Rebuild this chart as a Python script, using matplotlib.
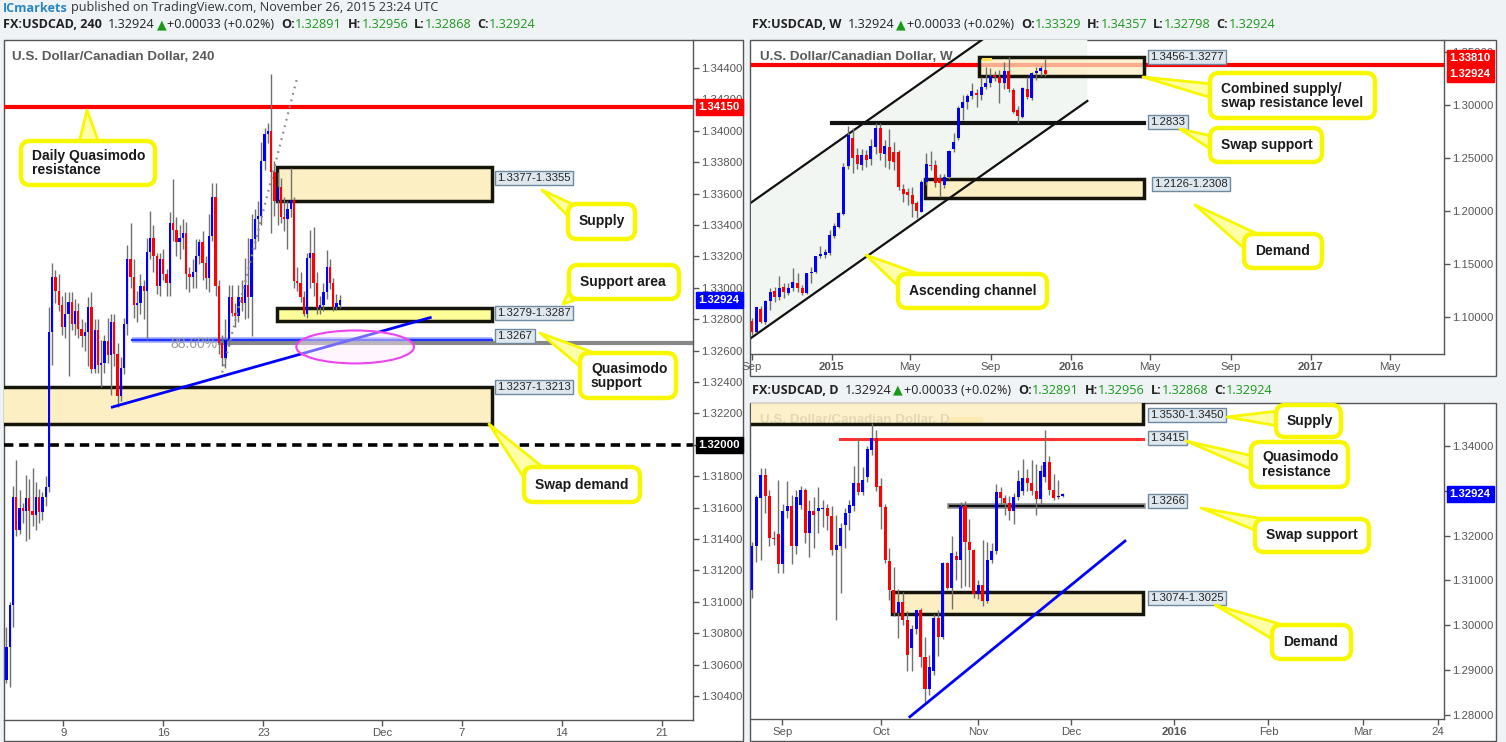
import numpy as np
import pandas as pd
import matplotlib
matplotlib.use('Agg')
import matplotlib.pyplot as plt
import matplotlib.dates as mdates
from matplotlib.patches import Rectangle, FancyBboxPatch, Polygon, Ellipse
from matplotlib.colors import to_rgba

# ======================= DATA =======================
# --- H4 (240) candles ---
h4_open = [1.3050,1.3071,1.3098,1.3167,1.3146,1.3160,1.3158,1.3166,1.3158,1.3155,
           1.3167,1.3157,1.3167,1.3173,1.3272,1.3307,1.3298,1.3289,1.3275,1.3283,
           1.3291,1.3277,1.3285,1.3274,1.3269,1.3272,1.3288,1.3248,1.3273,1.3251,
           1.3252,1.3266,1.3257,1.3278,1.3258,1.3231,1.3249,1.3277,1.3318,1.3307,
           1.3289,1.3290,1.3301,1.3298,1.3323,1.3332,1.3320,1.3301,1.3318,1.3309,
           1.3303,1.3341,1.3337,1.3329,1.3332,1.3335,1.3309,1.3307,1.3310,1.3320,
           1.3329,1.3316,1.3306,1.3333,1.3358,1.3301,1.3265,1.3255,1.3267,1.3294,
           1.3284,1.3282,1.3294,1.3290,1.3302,1.3294,1.3331,1.3344,1.3346,1.3381,
           1.3398,1.3400,1.3374,1.3355,1.3364,1.3345,1.3344,1.3350,1.3356,1.3304,
           1.3303,1.3294,1.3283,1.3319,1.3322,1.3303,1.3287,1.3289,1.3297,1.3313,
           1.3303,1.3288,1.3289]
h4_high = [1.3084,1.3100,1.3174,1.3190,1.3171,1.3163,1.3181,1.3178,1.3185,1.3176,
           1.3172,1.3170,1.3180,1.3288,1.3316,1.3311,1.3309,1.3295,1.3297,1.3297,
           1.3297,1.3293,1.3290,1.3280,1.3278,1.3294,1.3297,1.3280,1.3280,1.3267,
           1.3270,1.3281,1.3283,1.3283,1.3265,1.3256,1.3281,1.3327,1.3341,1.3318,
           1.3298,1.3309,1.3305,1.3332,1.3349,1.3340,1.3322,1.3322,1.3325,1.3312,
           1.3348,1.3369,1.3345,1.3340,1.3344,1.3342,1.3313,1.3318,1.3331,1.3331,
           1.3336,1.3320,1.3347,1.3367,1.3367,1.3305,1.3270,1.3280,1.3302,1.3302,
           1.3290,1.3302,1.3305,1.3319,1.3332,1.3347,1.3350,1.3355,1.3393,1.3402,
           1.3405,1.3436,1.3381,1.3374,1.3370,1.3358,1.3355,1.3376,1.3358,1.3313,
           1.3310,1.3298,1.3322,1.3337,1.3339,1.3310,1.3295,1.3303,1.3324,1.3318,
           1.3306,1.3296,1.32956]
h4_low = [1.3048,1.3046,1.3084,1.3142,1.3143,1.3150,1.3139,1.3140,1.3148,1.3146,
          1.3150,1.3152,1.3161,1.3170,1.3251,1.3290,1.3285,1.3270,1.3268,1.3244,
          1.3273,1.3270,1.3268,1.3262,1.3260,1.3250,1.3246,1.3246,1.3246,1.3237,
          1.3246,1.3252,1.3232,1.3250,1.3224,1.3228,1.3245,1.3270,1.3300,1.3281,
          1.3278,1.3283,1.3280,1.3267,1.3318,1.3310,1.3296,1.3295,1.3305,1.3295,
          1.3295,1.3330,1.3320,1.3318,1.3325,1.3299,1.3297,1.3300,1.3300,1.3315,
          1.3305,1.3299,1.3297,1.3330,1.3295,1.3258,1.3250,1.3249,1.3263,1.3282,
          1.3275,1.3278,1.3285,1.3280,1.3281,1.3269,1.3325,1.3330,1.3340,1.3375,
          1.3392,1.3335,1.3346,1.3340,1.3341,1.3336,1.3325,1.3345,1.3300,1.3298,
          1.3291,1.3282,1.3281,1.3300,1.3295,1.3283,1.3283,1.3285,1.3293,1.3299,
          1.3285,1.3286,1.32868]
h4_close = [1.3071,1.3098,1.3167,1.3146,1.3160,1.3158,1.3166,1.3158,1.3155,1.3167,
            1.3157,1.3167,1.3173,1.3272,1.3307,1.3298,1.3289,1.3275,1.3283,1.3291,
            1.3277,1.3285,1.3274,1.3269,1.3272,1.3288,1.3248,1.3273,1.3251,1.3252,
            1.3266,1.3257,1.3278,1.3258,1.3231,1.3249,1.3277,1.3318,1.3307,1.3289,
            1.3290,1.3301,1.3298,1.3323,1.3332,1.3320,1.3301,1.3318,1.3309,1.3303,
            1.3341,1.3337,1.3329,1.3332,1.3335,1.3309,1.3307,1.3310,1.3320,1.3329,
            1.3316,1.3306,1.3333,1.3358,1.3301,1.3265,1.3255,1.3267,1.3294,1.3284,
            1.3282,1.3294,1.3290,1.3302,1.3294,1.3331,1.3344,1.3346,1.3381,1.3398,
            1.3400,1.3374,1.3355,1.3364,1.3345,1.3344,1.3350,1.3356,1.3304,1.3303,
            1.3294,1.3283,1.3319,1.3322,1.3303,1.3287,1.3289,1.3297,1.3313,1.3303,
            1.3288,1.3290,1.32924]
h4_tick_pos = [17.4, 48.0, 78.6, 115.0, 139.4, 170.0, 200.6]
h4_tick_lab = ['9', '16', '23', 'Dec', '7', '14', '21']
h4_yticks = [1.304, 1.306, 1.308, 1.310, 1.312, 1.314, 1.316, 1.318, 1.320, 1.322,
             1.324, 1.326, 1.328, 1.330, 1.332, 1.334, 1.336, 1.338, 1.340, 1.342, 1.344]

# H4 levels / drawings
h4_qm_res = 1.3415
h4_supply = (1.3355, 1.3377)
h4_support = (1.3279, 1.3287)
h4_qm_sup = 1.3267
h4_fib = 1.32648
h4_swap = (1.3213, 1.3237)
h4_round = 1.3200
h4_last = 1.32924
h4_trend_x = [32.4, 129.7]
h4_trend_y = [1.3224, 1.3281]
h4_fibline_x = [66.0, 89.0]
h4_fibline_y = [1.3246, 1.3434]

# --- Weekly candles ---
w_open = [1.0962,1.0861,1.1078,1.0955,1.1151,1.1248,1.1191,1.1280,1.1223,1.1270,
          1.1317,1.1270,1.1223,1.1412,1.1428,1.1576,1.1585,1.1601,1.1765,1.1853,
          1.1973,1.2426,1.2688,1.2530,1.2436,1.2530,1.2489,1.2609,1.2782,1.2540,
          1.2603,1.2562,1.2562,1.2206,1.2184,1.2152,1.2073,1.1995,1.2278,1.2436,
          1.2436,1.2310,1.2247,1.2319,1.2584,1.2688,1.2971,1.3034,1.3088,1.3119,
          1.3097,1.3176,1.3207,1.3283,1.3270,1.3214,1.3327,1.3145,1.2956,1.2893,
          1.3151,1.3066,1.3302,1.3324,1.33329]
w_high = [1.0987,1.1097,1.1103,1.1160,1.1270,1.1286,1.1387,1.1320,1.1317,1.1459,
          1.1412,1.1300,1.1420,1.1475,1.1580,1.1670,1.1640,1.1822,1.1891,1.1990,
          1.2452,1.2804,1.2782,1.2600,1.2590,1.2580,1.2678,1.2830,1.2830,1.2670,
          1.2773,1.2650,1.2580,1.2260,1.2220,1.2231,1.2100,1.2290,1.2546,1.2571,
          1.2480,1.2350,1.2350,1.2580,1.2735,1.2990,1.3097,1.3110,1.3214,1.3150,
          1.3271,1.3359,1.3349,1.3327,1.3333,1.3412,1.3453,1.3160,1.2990,1.3170,
          1.3271,1.3310,1.3359,1.3370,1.34357]
w_low = [1.0829,1.0850,1.0940,1.0930,1.1066,1.1140,1.1160,1.1180,1.1210,1.1250,
         1.1240,1.1207,1.1215,1.1317,1.1420,1.1560,1.1560,1.1590,1.1750,1.1840,
         1.1960,1.2400,1.2357,1.2400,1.2389,1.2420,1.2440,1.2540,1.2480,1.2420,
         1.2400,1.2389,1.2200,1.2089,1.2060,1.1947,1.1932,1.1995,1.2250,1.2390,
         1.2230,1.2137,1.2220,1.2300,1.2560,1.2670,1.2861,1.2962,1.3060,1.2987,
         1.3050,1.3150,1.3170,1.3230,1.3025,1.3150,1.3130,1.2930,1.2836,1.2880,
         1.3060,1.3050,1.3239,1.3280,1.32798]
w_close = [1.0861,1.1091,1.0955,1.1151,1.1239,1.1185,1.1270,1.1232,1.1270,1.1327,
           1.1270,1.1223,1.1412,1.1428,1.1576,1.1595,1.1617,1.1774,1.1859,1.1979,
           1.2414,1.2719,1.2499,1.2445,1.2530,1.2483,1.2615,1.2782,1.2546,1.2615,
           1.2477,1.2467,1.2231,1.2162,1.2152,1.2067,1.2004,1.2278,1.2445,1.2426,
           1.2263,1.2263,1.2319,1.2571,1.2656,1.2971,1.3034,1.3088,1.3138,1.3097,
           1.3176,1.3207,1.3277,1.3264,1.3214,1.3327,1.3151,1.2940,1.2899,1.3160,
           1.3075,1.3302,1.3324,1.3349,1.32924]
w_dates = pd.date_range('2014-09-01', periods=len(w_open), freq='7D')
w_tick_dates = ['2014-09-01', '2015-01-01', '2015-05-01', '2015-09-01', '2016-01-01',
                '2016-05-01', '2016-09-01', '2017-01-01', '2017-05-01']
w_tick_lab = ['Sep', '2015', 'May', 'Sep', '2016', 'May', 'Sep', '2017', 'May']
w_yticks = [1.10, 1.15, 1.20, 1.25, 1.30, 1.35]

w_supply = (1.3277, 1.3456)
w_res = 1.3381
w_swap = 1.2833
w_demand = (1.2126, 1.2308)
w_last = 1.32924
w_chan_dates = ['2014-08-31', '2016-01-26']
w_chan_lower = [1.0801, 1.3041]
w_chan_upper = [1.2080, 1.4320]

# --- Daily candles ---
d_open = [1.3078,1.3176,1.3283,1.3335,1.3289,1.3194,1.3204,1.3136,1.3254,1.3266,
          1.3176,1.3268,1.3302,1.3205,1.3255,1.3254,1.3260,1.3261,1.3244,1.3167,
          1.3177,1.3224,1.3250,1.3266,1.3317,1.3298,1.3332,1.3391,1.3419,1.3311,
          1.3265,1.3144,1.3079,1.3027,1.3053,1.3012,1.2949,1.2991,1.3034,1.2930,
          1.2858,1.2897,1.3016,1.2975,1.3139,1.3083,1.3155,1.3146,1.3266,1.3187,
          1.3168,1.3070,1.3090,1.3055,1.3146,1.3165,1.3298,1.3283,1.3272,1.3256,
          1.3287,1.3300,1.3328,1.3318,1.3300,1.3281,1.3331,1.3365,1.3303,1.3286,1.32891]
d_high = [1.3185,1.3290,1.3350,1.3350,1.3302,1.3210,1.3324,1.3270,1.3323,1.3291,
          1.3302,1.3311,1.3306,1.3280,1.3287,1.3308,1.3280,1.3270,1.3266,1.3246,
          1.3229,1.3261,1.3280,1.3355,1.3417,1.3354,1.3400,1.3451,1.3436,1.3328,
          1.3270,1.3172,1.3131,1.3080,1.3075,1.3031,1.3000,1.3035,1.3038,1.2974,
          1.2934,1.3025,1.3034,1.3142,1.3142,1.3199,1.3165,1.3275,1.3278,1.3237,
          1.3170,1.3100,1.3190,1.3187,1.3183,1.3315,1.3308,1.3290,1.3289,1.3295,
          1.3347,1.3370,1.3348,1.3369,1.3361,1.3358,1.3436,1.3378,1.3338,1.3324,1.32956]
d_low = [1.3060,1.3142,1.3146,1.3250,1.3178,1.3180,1.3116,1.3116,1.3240,1.3136,
         1.3159,1.3260,1.3183,1.3153,1.3172,1.3205,1.3220,1.3213,1.3157,1.3011,
         1.3072,1.3172,1.3213,1.3255,1.3290,1.3290,1.3320,1.3380,1.3300,1.3216,
         1.3140,1.3057,1.3021,1.2971,1.3000,1.2899,1.2899,1.2980,1.2908,1.2830,
         1.2845,1.2890,1.2932,1.2970,1.3081,1.3036,1.3100,1.3083,1.3088,1.3086,
         1.3061,1.3058,1.3042,1.3050,1.3140,1.3160,1.3270,1.3246,1.3234,1.3226,
         1.3280,1.3290,1.3300,1.3290,1.3246,1.3270,1.3320,1.3290,1.3280,1.3281,1.32868]
d_close = [1.3177,1.3286,1.3335,1.3289,1.3194,1.3193,1.3137,1.3256,1.3266,1.3176,
           1.3287,1.3302,1.3205,1.3255,1.3246,1.3261,1.3261,1.3243,1.3167,1.3179,
           1.3218,1.3250,1.3269,1.3317,1.3298,1.3324,1.3393,1.3419,1.3308,1.3263,
           1.3146,1.3079,1.3027,1.3053,1.3011,1.2934,1.2991,1.3034,1.2930,1.2858,
           1.2908,1.3016,1.2975,1.3139,1.3083,1.3161,1.3146,1.3266,1.3187,1.3168,
           1.3070,1.3090,1.3055,1.3146,1.3165,1.3298,1.3283,1.3272,1.3256,1.3287,
           1.3321,1.3328,1.3318,1.3300,1.3281,1.3344,1.3365,1.3303,1.3283,1.3289,1.32924]
d_tick_pos = [6.9, 29.1, 50.9, 71.9, 95.1, 116.3, 137.5, 154.4]
d_tick_lab = ['Sep', 'Oct', 'Nov', 'Dec', '2016', 'Feb', 'Mar', '24']
d_yticks = [1.28, 1.29, 1.30, 1.31, 1.32, 1.33, 1.34]

d_supply = (1.3450, 1.3530)
d_qm_res = 1.3415
d_swap = 1.3266
d_demand = (1.3025, 1.3074)
d_last = 1.32924
d_trend_x = [35.6, 84.0]
d_trend_y = [1.2796, 1.3188]

# ======================= STYLE =======================
W, H = 1506, 742
SANS = ['Liberation Sans', 'DejaVu Sans']
HEAD = ['Open Sans', 'DejaVu Sans']
plt.rcParams['font.family'] = SANS
UP, DOWN, WICK = '#0000ff', '#ff0000', '#707070'
GRAYTXT = '#555555'
ZONE_FC = '#fdefc4'
LABEL_FC, LABEL_EC = '#dfe8ef', '#6d8aa0'
YEL = '#f7f700'
GREEN = '#1a9a1a'
DARK = '#222222'

fig = plt.figure(figsize=(W / 100, H / 100), dpi=100)
fig.patch.set_facecolor('#f0f3f6')


def px_axes(x0, y0, x1, y1):
    return fig.add_axes([x0 / W, 1 - y1 / H, (x1 - x0) / W, (y1 - y0) / H])


def frame(x0, y0, x1, y1):
    fig.add_artist(Rectangle((x0 / W, 1 - y1 / H), (x1 - x0) / W, (y1 - y0) / H,
                             transform=fig.transFigure, fc='white', ec='#555555',
                             lw=1, zorder=-5))


frame(3.5, 40, 743, 740.5)
frame(750, 40, 1496, 375.5)
frame(750, 403, 1496, 740.5)


def style_axes(ax, yticks, xticks, xlabels, bold_labels=()):
    for s in ['top', 'left']:
        ax.spines[s].set_visible(False)
    for s in ['right', 'bottom']:
        ax.spines[s].set_color('#555555')
        ax.spines[s].set_linewidth(1)
    ax.patch.set_alpha(0)
    ax.yaxis.tick_right()
    ax.set_yticks(yticks)
    ax.set_yticklabels(['%.5f' % v for v in yticks])
    ax.set_xticks(xticks)
    ax.set_xticklabels(xlabels)
    ax.tick_params(axis='both', colors='#555555', labelcolor=GRAYTXT, length=4,
                   width=1, labelsize=8.2, pad=2)
    for lab in ax.get_xticklabels():
        if lab.get_text() in bold_labels:
            lab.set_fontweight('bold')


def candles(ax, x, o, h, l, c, width, minh):
    o, h, l, c = map(np.asarray, (o, h, l, c))
    up = c >= o
    cols = np.where(up, UP, DOWN)
    ax.vlines(x, l, h, color=WICK, lw=1, zorder=3)
    bottom = np.minimum(o, c)
    height = np.maximum(np.abs(c - o), minh)
    ax.bar(x, height, width, bottom=bottom, color=cols, lw=0, zorder=4)


def zone(ax, x0, x1, lo, hi, fc=ZONE_FC, alpha=1.0, z=1.5):
    ax.add_patch(Rectangle((x0, lo), x1 - x0, hi - lo, fc=to_rgba(fc, alpha),
                           ec='#15150a', lw=2.5, zorder=z))


def plabel(ax, x, y, text):
    ax.text(x, y, text, ha='left', va='center', fontsize=8.2, color=DARK,
            bbox=dict(boxstyle='square,pad=0.2', fc=LABEL_FC, ec=LABEL_EC, lw=1),
            zorder=15, clip_on=False)


def tag(ax, price, text, fc, dy=0):
    ax.annotate(text, xy=(1, price), xycoords=ax.get_yaxis_transform(),
                xytext=(4, dy), textcoords='offset points', ha='left', va='center',
                color='white', fontsize=8.2, fontweight='bold',
                bbox=dict(boxstyle='square,pad=0.25', fc=fc, ec=fc),
                zorder=20, annotation_clip=False)


# ======================= H4 PANEL =======================
ax1 = px_axes(3.5, 40, 693, 720)
x_h4 = np.arange(len(h4_open))
ax1.set_xlim(-0.9, 210.1)
ax1.set_ylim(1.30247, 1.34578)
style_axes(ax1, h4_yticks, h4_tick_pos, h4_tick_lab)

ax1.axhline(h4_qm_res, color='#ff0000', lw=3, zorder=2)
zone(ax1, 82.9, 148.6, *h4_supply)
zone(ax1, 82.9, 148.6, *h4_support, fc='#ffff9a')
zone(ax1, -2, 148.6, *h4_swap)
ax1.axhline(h4_round, color='black', lw=2.6, ls=(0, (2.6, 1.6)), zorder=2)
ax1.plot([38.5, 148.6], [h4_qm_sup, h4_qm_sup], color='#9aa8ff', lw=4, zorder=2,
         solid_capstyle='butt')
ax1.plot([38.5, 148.6], [h4_qm_sup, h4_qm_sup], color='#2233ff', lw=1.6, zorder=2.1)
ax1.plot([65.4, 211], [h4_fib, h4_fib], color='#888888', lw=3, zorder=2)
ax1.text(57.5, 1.32642, '88.60%', color='#9a9a9a', fontsize=10, ha='center',
         va='center', zorder=2.2)
ax1.plot(h4_trend_x, h4_trend_y, color='#0000ff', lw=2, zorder=5)
ax1.plot(h4_fibline_x, h4_fibline_y, color='#8a8a8a', lw=1.6, ls=(0, (0.8, 2.2)),
         zorder=5)
candles(ax1, x_h4, h4_open, h4_high, h4_low, h4_close, 0.7, 0.00006)
ax1.add_patch(Ellipse((106.7, 1.32623), 36, 0.0021, fc=(1, 0.92, 1, 0.45),
                      ec='#ee44ee', lw=1.5, zorder=6))
plabel(ax1, 150.2, 1.3370, '1.3377-1.3355')
plabel(ax1, 150.2, 1.32839, '1.3279-1.3287')
plabel(ax1, 150.2, 1.32693, '1.3267')
plabel(ax1, 150.2, 1.32368, '1.3237-1.3213')
tag(ax1, h4_qm_res, '1.34150', '#ff0000')
tag(ax1, h4_last, '1.32924', '#0000ff')
tag(ax1, h4_round, '1.32000', '#000000')

# ======================= WEEKLY PANEL =======================
ax2 = px_axes(751, 40, 1444, 354)
xw = mdates.date2num(w_dates)
ax2.set_xlim(mdates.date2num(pd.Timestamp('2014-08-31')),
             mdates.date2num(pd.Timestamp('2017-07-23')))
ax2.set_ylim(1.0650, 1.3617)
style_axes(ax2, w_yticks, mdates.date2num(pd.to_datetime(w_tick_dates)), w_tick_lab,
           bold_labels=('2015', '2016', '2017'))
cx = mdates.date2num(pd.to_datetime(w_chan_dates))
ax2.add_patch(Polygon([(cx[0], w_chan_lower[0]), (cx[1], w_chan_lower[1]),
                       (cx[1], w_chan_upper[1]), (cx[0], w_chan_upper[0])],
                      closed=True, fc='#f2f6f2', ec='none', zorder=0.5))
ax2.plot(cx, w_chan_lower, color='#111111', lw=1.6, zorder=2)
ax2.plot(cx, w_chan_upper, color='#111111', lw=1.6, zorder=2)
ax2.axhline(w_res, color='#ff0000', lw=3, zorder=1.2)
d2n = lambda s: mdates.date2num(pd.Timestamp(s))
zone(ax2, d2n('2015-08-14'), d2n('2016-04-22'), *w_supply, alpha=0.72, z=1.5)
ax2.add_patch(Rectangle((d2n('2015-08-18'), 1.3418), 16, 0.0030, fc='#ffe14a',
                        ec='none', zorder=1.6))
ax2.plot([d2n('2015-01-02'), d2n('2016-04-22')], [w_swap, w_swap], color='#111111',
         lw=3, zorder=2)
zone(ax2, d2n('2015-05-24'), d2n('2016-04-22'), *w_demand, z=1.5)
candles(ax2, xw, w_open, w_high, w_low, w_close, 4.6, 0.0011)
plabel(ax2, d2n('2016-05-01'), w_supply[1], '1.3456-1.3277')
plabel(ax2, d2n('2016-05-01'), 1.2842, '1.2833')
plabel(ax2, d2n('2016-05-07'), 1.2256, '1.2126-1.2308')
tag(ax2, w_res, '1.33810', '#ff0000', dy=5)
tag(ax2, w_last, '1.32924', '#ff0000')

# ======================= DAILY PANEL =======================
ax3 = px_axes(751, 403, 1444, 719)
xd = np.arange(len(d_open))
ax3.set_xlim(-0.16, 155.8)
ax3.set_ylim(1.2791, 1.3496)
style_axes(ax3, d_yticks, d_tick_pos, d_tick_lab, bold_labels=('2016',))
ax3.text(0.013, 0.946, 'U.S. Dollar/Canadian Dollar, D', transform=ax3.transAxes,
         fontsize=9.6, fontweight='bold', color='#5a5a5a',
         ha='left', va='center', zorder=1)
ax3.add_patch(Rectangle((0.2857, 0.935), 0.049, 0.022, transform=ax3.transAxes,
                        fc='#ffe14a', ec='none', zorder=1.1))
zone(ax3, -2, 88.1, *d_supply, alpha=0.85, z=1.5)
ax3.plot([19.8, 88.1], [d_qm_res, d_qm_res], color='#ff3030', lw=2.2, zorder=2)
ax3.plot([44.7, 88.1], [d_swap, d_swap], color='#8a8a8a', lw=4, zorder=2)
ax3.plot([44.7, 88.1], [d_swap, d_swap], color='#111111', lw=1.6, zorder=2.1)
zone(ax3, 31.5, 88.1, *d_demand)
ax3.plot(d_trend_x, d_trend_y, color='#0000ff', lw=2, zorder=5)
candles(ax3, xd, d_open, d_high, d_low, d_close, 0.68, 0.00025)
plabel(ax3, 89.6, 1.3469, '1.3530-1.3450')
plabel(ax3, 89.6, 1.3418, '1.3415')
plabel(ax3, 89.6, 1.3277, '1.3266')
plabel(ax3, 89.6, 1.3061, '1.3074-1.3025')
tag(ax3, d_last, '1.32924', '#0000ff')

# ======================= OVERLAY (headers, callouts) =======================
ov = fig.add_axes([0, 0, 1, 1])
ov.set_xlim(0, W)
ov.set_ylim(H, 0)
ov.axis('off')
ov.set_zorder(10)
ov.patch.set_alpha(0)
renderer = fig.canvas.get_renderer()


def rich(x, y, parts, fs=9.1):
    for s, col, wt, gap in parts:
        t = ov.text(x, y, s, color=col, fontweight=wt, fontsize=fs, family=HEAD,
                    ha='left', va='center', zorder=5)
        x += t.get_window_extent(renderer=renderer).width + gap


def ohlc_parts(name, o, h, l, c):
    return [(name, DARK, 'bold', 6), ('1.32924', DARK, 'normal', 2),
            ('\u25B2', GREEN, 'normal', 1), ('+0.00033 (+0.02%)', DARK, 'normal', 7),
            ('O:', DARK, 'bold', 0), (o, GREEN, 'normal', 6),
            ('H:', DARK, 'bold', 0), (h, GREEN, 'normal', 6),
            ('L:', DARK, 'bold', 0), (l, GREEN, 'normal', 6),
            ('C:', DARK, 'bold', 0), (c, GREEN, 'normal', 0)]


rich(3, 8, [('ICmarkets', '#2a86c6', 'bold', 3),
            ('published on TradingView.com, November 26, 2015 23:24 UTC', '#333333',
             'normal', 0)])
rich(3, 25, ohlc_parts('FX:USDCAD, 240', '1.32891', '1.32956', '1.32868', '1.32924'))
rich(752, 25, ohlc_parts('FX:USDCAD, W', '1.33329', '1.34357', '1.32798', '1.32924'))
rich(752, 390, ohlc_parts('FX:USDCAD, D', '1.32891', '1.32956', '1.32868', '1.32924'))

ov.text(12, 57, 'U.S. Dollar/Canadian Dollar, 240', fontsize=9.6, fontweight='bold',
        color='#5a5a5a', ha='left', va='center')
ov.text(760, 57, 'U.S. Dollar/Canadian Dollar, W', fontsize=9.6, fontweight='bold',
        color='#5a5a5a', ha='left', va='center')


def callout(text, box, tip, base, fs=10.0):
    x0, y0, x1, y1 = box
    ov.add_patch(Polygon([base[0], tip, base[1]], closed=True, fc='#ffffa8', ec=YEL,
                         lw=2, zorder=1, joinstyle='round'))
    ov.add_patch(FancyBboxPatch((x0, y0), x1 - x0, y1 - y0,
                                boxstyle='round,pad=0,rounding_size=9', fc='white',
                                ec=YEL, lw=3.2, zorder=2))
    ov.text(x0 + 11, (y0 + y1) / 2, text, ha='left', va='center', fontsize=fs,
            fontweight='bold', color='#1a1a1a', zorder=3, linespacing=1.0)


callout('Daily Quasimodo\nresistance', (21, 141, 155, 185), (87, 110), [(79, 143), (99, 143)])
callout('Supply', (568, 204, 635, 239), (542, 190), [(576, 206), (570, 218)])
callout('Support area', (569, 265, 679, 299), (563, 304), [(571, 287), (584, 297)])
callout('Quasimodo\nsupport', (580, 353, 676, 398), (540, 333), [(582, 368), (600, 355)])
callout('Swap demand', (524, 467, 640, 502), (489, 424), [(526, 481), (545, 469)])

callout('Combined supply/\nswap resistance level', (1210, 73, 1375, 118), (1143, 77),
        [(1212, 84), (1212, 98)])
callout('Swap support', (1210, 128, 1322, 162), (1180, 129), [(1212, 136), (1212, 150)])
callout('Demand', (1244, 234, 1322, 268), (1195, 205), [(1246, 250), (1262, 236)])
callout('Ascending channel', (898, 274, 1047, 308), (866, 255), [(900, 288), (925, 276)])

callout('Supply', (1276, 405, 1341, 437), (1227, 417), [(1278, 411), (1278, 426)])
callout('Quasimodo\nresistance', (1251, 442, 1348, 487), (1186, 441),
        [(1253, 456), (1253, 470)])
callout('Swap support', (1255, 519, 1369, 552), (1201, 508), [(1257, 531), (1275, 521)])
callout('Demand', (1272, 625, 1351, 659), (1215, 605), [(1274, 640), (1290, 627)])

fig.savefig('out.png', dpi=100, facecolor=fig.get_facecolor())
